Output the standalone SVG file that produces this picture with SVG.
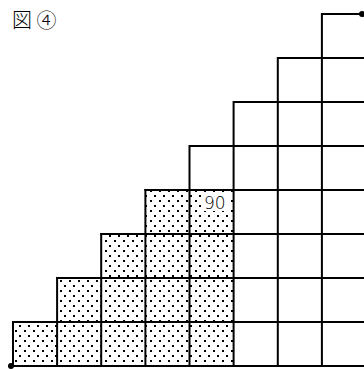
<svg xmlns="http://www.w3.org/2000/svg" width="364" height="369" viewBox="0 0 364 369">
<style>
.g{stroke:#000;stroke-width:2;fill:none;stroke-linecap:square}
.t{font-family:"Noto Sans CJK JP","Noto Sans",sans-serif;font-size:20px;font-weight:300;fill:#000}
.n{font-family:"DejaVu Sans","Noto Sans",sans-serif;font-size:17px;font-weight:300;fill:#000}
</style>
<defs>
<pattern id="dots" patternUnits="userSpaceOnUse" x="13" y="322" width="9" height="10">
<rect x="6" y="3" width="1.5" height="1.5" fill="#000" shape-rendering="crispEdges"/>
<rect x="2" y="8" width="1.5" height="1.5" fill="#000" shape-rendering="crispEdges"/>
</pattern>
</defs>
<rect width="364" height="369" fill="#fff"/>
<g id="title"><text class="t" x="12" y="28">図 ④</text></g>
<g id="dotted-region">
<path d="M13,366 V322 H57 V278 H101 V234 H145.4 V190 H233.6 V366 Z" fill="url(#dots)"/>
</g>
<g id="label-90">
<rect x="203" y="194" width="28" height="17" fill="#fff"/>
<text class="n" x="204" y="209">90</text>
</g>
<g id="grid">
<path class="g" d="M322,14 H364 M278,58 H364 M234,102 H364 M190,146 H364 M145.4,190 H364 M101.2,234 H364 M57.1,278 H364 M13,322 H364 M11,366 H364"/>
<path class="g" d="M13,322 V366 M57.1,278 V366 M101.2,234 V366 M145.4,190 V366 M189.5,146 V366 M233.6,102 V366 M277.8,58 V366 M321.9,14 V366"/>
</g>
<g id="endpoints">
<circle cx="11" cy="366" r="3" fill="#000"/>
<circle cx="362" cy="14" r="3" fill="#000"/>
</g>
</svg>
